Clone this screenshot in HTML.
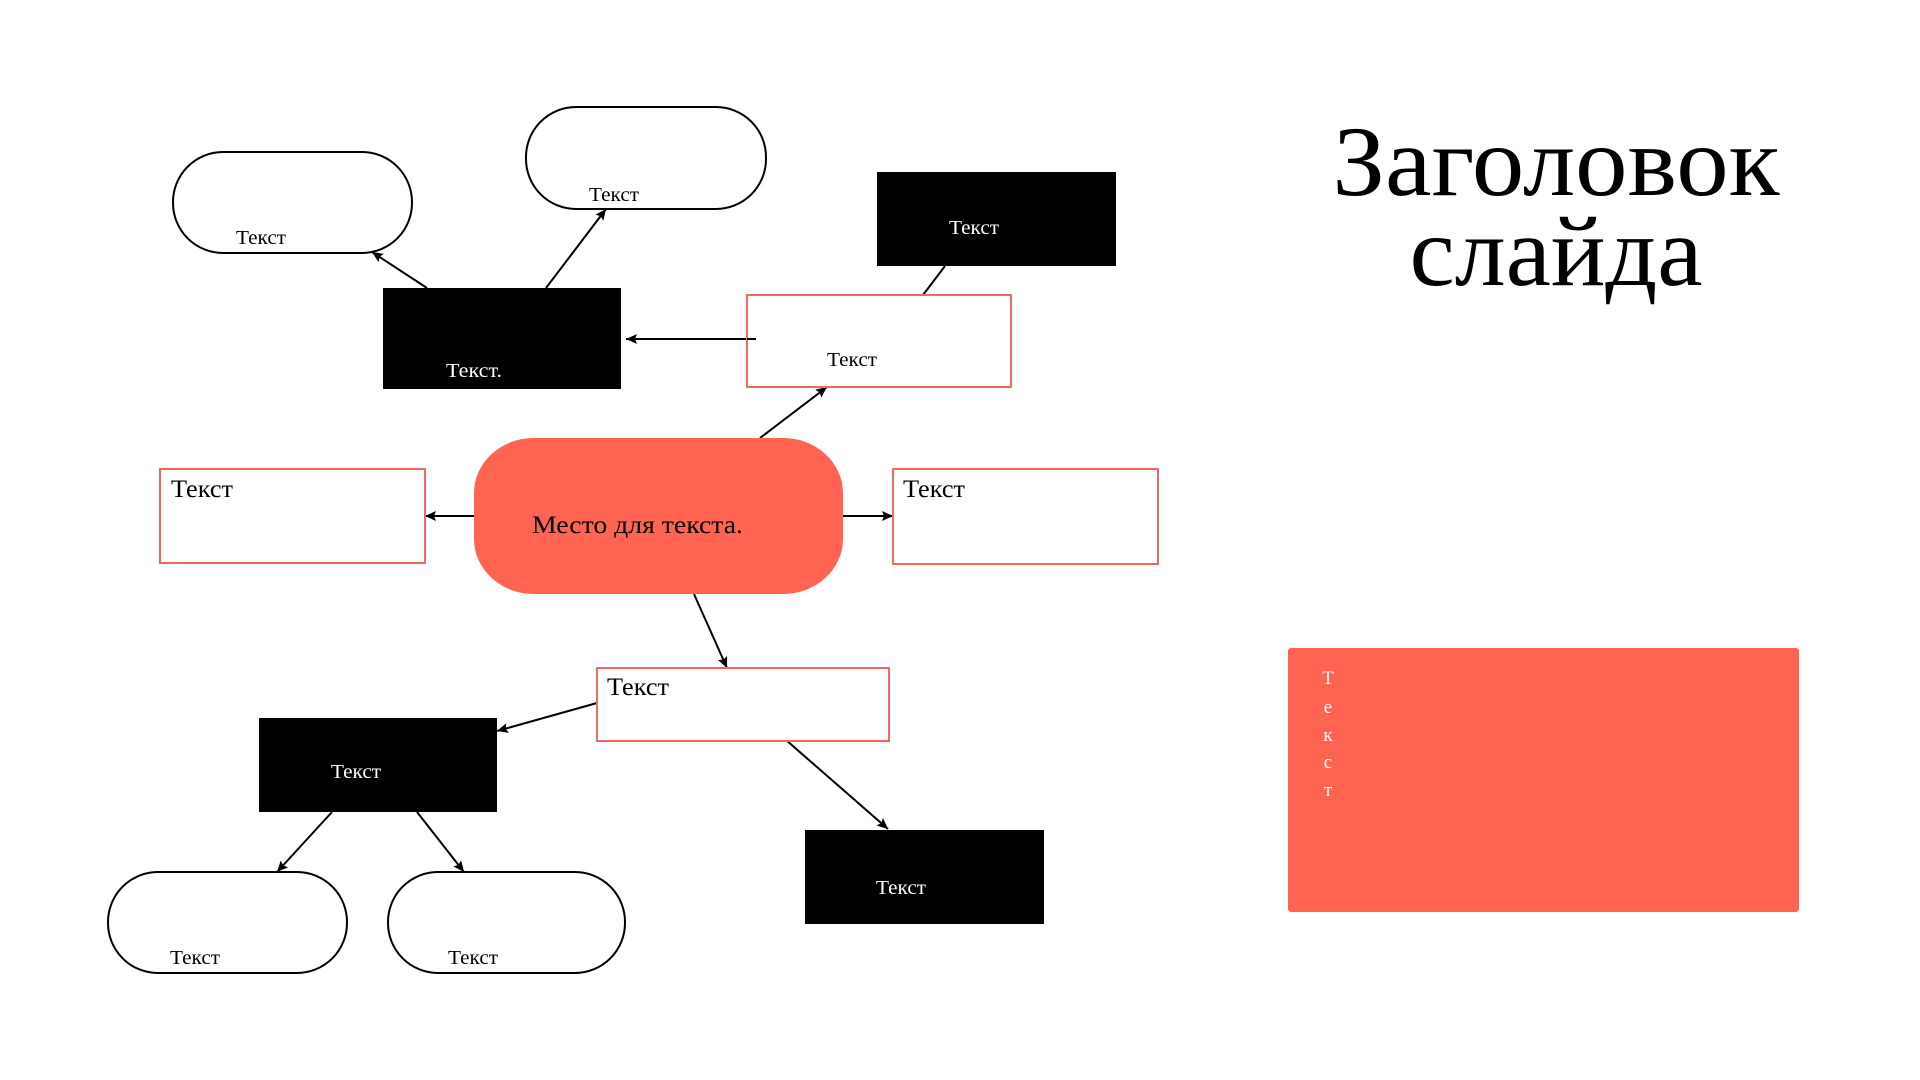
<!DOCTYPE html>
<html><head><meta charset="utf-8">
<style>
html,body{margin:0;padding:0;background:#fff;width:1920px;height:1080px;overflow:hidden}
svg{display:block}
text{font-family:"Liberation Serif","Noto Serif CJK SC",serif}
</style></head>
<body>
<svg width="1920" height="1080" viewBox="0 0 1920 1080" xmlns="http://www.w3.org/2000/svg">
<defs>
<marker id="ah" markerUnits="userSpaceOnUse" markerWidth="12" markerHeight="10" refX="11" refY="5" orient="auto">
<path d="M0,0 L11,5 L0,10 L2,5 Z" fill="#000"/>
</marker>
</defs>
<rect width="1920" height="1080" fill="#fff"/>

<!-- connectors -->
<g stroke="#000" stroke-width="2" fill="none">
<line x1="427" y1="288" x2="372" y2="252" marker-end="url(#ah)"/>
<line x1="546" y1="288" x2="606" y2="209" marker-end="url(#ah)"/>
<line x1="756" y1="339" x2="626" y2="339" marker-end="url(#ah)"/>
<line x1="945" y1="266" x2="923" y2="295"/>
<line x1="760" y1="438" x2="827" y2="387" marker-end="url(#ah)"/>
<line x1="475" y1="516" x2="425" y2="516" marker-end="url(#ah)"/>
<line x1="843" y1="516" x2="893" y2="516" marker-end="url(#ah)"/>
<line x1="694" y1="594" x2="727" y2="668" marker-end="url(#ah)"/>
<line x1="597" y1="703" x2="497" y2="731" marker-end="url(#ah)"/>
<line x1="786" y1="740" x2="888" y2="829" marker-end="url(#ah)"/>
<line x1="332" y1="812" x2="277" y2="872" marker-end="url(#ah)"/>
<line x1="417" y1="812" x2="464" y2="872" marker-end="url(#ah)"/>
</g>

<!-- pills -->
<g fill="#fff" stroke="#000" stroke-width="2">
<rect x="173" y="152" width="239" height="101" rx="50" ry="50"/>
<rect x="526" y="107" width="240" height="102" rx="50" ry="50"/>
<rect x="108" y="872" width="239" height="101" rx="50" ry="50"/>
<rect x="388" y="872" width="237" height="101" rx="50" ry="50"/>
</g>
<g font-size="20" fill="#000">
<text x="236" y="244" textLength="50" lengthAdjust="spacingAndGlyphs">Текст</text>
<text x="589" y="201" textLength="50" lengthAdjust="spacingAndGlyphs">Текст</text>
<text x="170" y="964" textLength="50" lengthAdjust="spacingAndGlyphs">Текст</text>
<text x="448" y="964" textLength="50" lengthAdjust="spacingAndGlyphs">Текст</text>
</g>

<!-- black boxes -->
<g fill="#000">
<rect x="383" y="288" width="238" height="101"/>
<rect x="877" y="172" width="239" height="94"/>
<rect x="259" y="718" width="238" height="94"/>
<rect x="805" y="830" width="239" height="94"/>
</g>
<g font-size="20" fill="#fff">
<text x="446" y="377" textLength="56" lengthAdjust="spacingAndGlyphs">Текст.</text>
<text x="949" y="234" textLength="50" lengthAdjust="spacingAndGlyphs">Текст</text>
<text x="331" y="778" textLength="50" lengthAdjust="spacingAndGlyphs">Текст</text>
<text x="876" y="894" textLength="50" lengthAdjust="spacingAndGlyphs">Текст</text>
</g>

<!-- red outline boxes -->
<g fill="#fff" stroke="#EE6A5E" stroke-width="2">
<rect x="747" y="295" width="264" height="92"/>
<rect x="160" y="469" width="265" height="94"/>
<rect x="893" y="469" width="265" height="95"/>
<rect x="597" y="668" width="292" height="73"/>
</g>
<line x1="756" y1="339" x2="747" y2="339" stroke="#000" stroke-width="2"/>
<text x="827" y="366" font-size="20" fill="#000" textLength="50" lengthAdjust="spacingAndGlyphs">Текст</text>
<g font-size="25" fill="#000">
<text x="171" y="497" textLength="62" lengthAdjust="spacingAndGlyphs">Текст</text>
<text x="903" y="497" textLength="62" lengthAdjust="spacingAndGlyphs">Текст</text>
<text x="607" y="695" textLength="62" lengthAdjust="spacingAndGlyphs">Текст</text>
</g>

<!-- center pill -->
<rect x="474" y="438" width="369" height="156" rx="60" ry="55" fill="#FF6352"/>
<text x="532" y="533" font-size="25" fill="#000" textLength="211" lengthAdjust="spacingAndGlyphs">Место для текста.</text>

<!-- title -->
<text x="1556" y="195" font-size="100" text-anchor="middle" fill="#000" textLength="447" lengthAdjust="spacingAndGlyphs">Заголовок</text>
<text x="1556" y="285" font-size="100" text-anchor="middle" fill="#000" textLength="293" lengthAdjust="spacingAndGlyphs">слайда</text>

<!-- right coral block -->
<rect x="1288" y="648" width="511" height="264" rx="3" ry="3" fill="#FF6352"/>
<g font-size="19" fill="#fff" text-anchor="middle">
<text x="1328" y="684">Т</text>
<text x="1328" y="713">е</text>
<text x="1328" y="741">к</text>
<text x="1328" y="768">с</text>
<text x="1328" y="796">т</text>
</g>
</svg>
</body></html>
